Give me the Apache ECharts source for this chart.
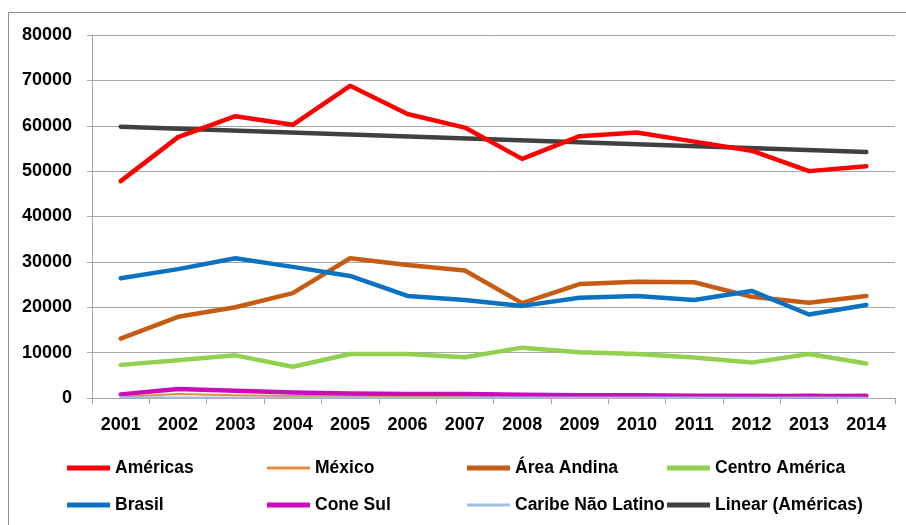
<!DOCTYPE html>
<html>
<head>
<meta charset="utf-8">
<script src="https://cdn.jsdelivr.net/npm/echarts@6/dist/echarts.min.js"></script>
<style>
    html, body { margin: 0; padding: 0; background: #fff; }
    #chart { width: 906px; height: 525px; }
</style>
</head>
<body>
<div id="chart"></div>
<script>
// 年份
var years = ['2001', '2002', '2003', '2004', '2005', '2006', '2007', '2008', '2009', '2010', '2011', '2012', '2013', '2014'];
// y轴刻度
var yTicks = [0, 10000, 20000, 30000, 40000, 50000, 60000, 70000, 80000];

// 各系列数据
var americas = [47800, 57500, 62100, 60200, 68800, 62600, 59600, 52700, 57700, 58500, 56500, 54500, 50000, 51100];
var mexico = [200, 900, 600, 450, 400, 350, 350, 300, 300, 300, 300, 400, 900, 300];
var areaAndina = [13100, 17900, 20000, 23100, 30800, 29300, 28100, 20900, 25100, 25600, 25500, 22300, 21000, 22500];
var centroAmerica = [7300, 8300, 9400, 6900, 9700, 9700, 9000, 11100, 10100, 9700, 8900, 7800, 9700, 7600];
var brasil = [26400, 28400, 30800, 28900, 26900, 22500, 21600, 20300, 22100, 22500, 21600, 23600, 18400, 20500];
var coneSul = [800, 2000, 1600, 1200, 1000, 900, 900, 700, 600, 600, 500, 500, 400, 500];
var caribe = [150, 120, 130, 100, 100, 110, 100, 90, 100, 100, 90, 80, 90, 80];
// 趋势线只给首尾两点，中间用 connectNulls 连成直线
var linearEnds = [59800, 54200];

var linearData = years.map(function (y, i) {
    if (i === 0) return linearEnds[0];
    if (i === years.length - 1) return linearEnds[1];
    return null;
});

var seriesList = [
    { name: 'Américas', data: americas, color: '#FF0000', width: 4.5 },
    { name: 'México', data: mexico, color: '#E98A3E', width: 2 },
    { name: 'Área Andina', data: areaAndina, color: '#C65B13', width: 4.5 },
    { name: 'Centro América', data: centroAmerica, color: '#92D050', width: 4.5 },
    { name: 'Brasil', data: brasil, color: '#0A72C0', width: 4.5 },
    { name: 'Cone Sul', data: coneSul, color: '#CC0CB8', width: 4.5 },
    { name: 'Caribe Não Latino', data: caribe, color: '#9DBFE3', width: 2 },
    { name: 'Linear (Américas)', data: linearData, color: '#404040', width: 4.5 }
];

// 图例位置：两行四列
var legendCols = [67, 267, 467, 667];
var legendRows = [458, 495];

var textFont = "'Liberation Sans', Arial, sans-serif";

var chart = echarts.init(document.getElementById('chart'));

var option = {
    animation: false,
    backgroundColor: '#fff',
    grid: {
        left: 92,
        right: 11,
        top: 35,
        bottom: 127
    },
    graphic: [{
        type: 'rect',
        shape: { x: 8.5, y: 12.5, width: 1000, height: 1000 },
        style: { fill: 'none', stroke: '#8C8C8C', lineWidth: 1 },
        silent: true
    }],
    legend: seriesList.map(function (s, i) {
        return {
            data: [s.name],
            left: legendCols[i % 4],
            top: legendRows[Math.floor(i / 4)],
            icon: 'rect',
            itemWidth: 43,
            itemHeight: s.width > 3 ? 5 : 3,
            itemGap: 0,
            padding: 0,
            textStyle: {
                fontFamily: textFont,
                fontWeight: 'bold',
                fontSize: 17.5,
                lineHeight: 20,
                color: '#000'
            }
        };
    }),
    xAxis: {
        type: 'category',
        data: years,
        boundaryGap: true,
        axisLine: { lineStyle: { color: '#A6A6A6', width: 1 } },
        axisTick: { show: true, length: 6, lineStyle: { color: '#A6A6A6' } },
        axisLabel: {
            interval: 0,
            margin: 18,
            color: '#000',
            fontFamily: textFont,
            fontWeight: 'bold',
            fontSize: 18
        }
    },
    yAxis: {
        type: 'value',
        min: yTicks[0],
        max: yTicks[yTicks.length - 1],
        interval: yTicks[1] - yTicks[0],
        axisLine: { show: true, lineStyle: { color: '#A6A6A6', width: 1 } },
        axisTick: { show: true, length: 5, lineStyle: { color: '#A6A6A6' } },
        splitLine: { lineStyle: { color: '#A6A6A6', width: 1 } },
        axisLabel: {
            margin: 20,
            color: '#000',
            fontFamily: textFont,
            fontWeight: 'bold',
            fontSize: 18,
            formatter: function (v) { return String(v); }
        }
    },
    series: seriesList.map(function (s, i) {
        return {
            type: 'line',
            name: s.name,
            data: s.data,
            connectNulls: true,
            showSymbol: false,
            symbol: 'none',
            color: s.color,
            z: s.name === 'Américas' ? 4 : 2,
            lineStyle: { color: s.color, width: s.width, cap: 'round', join: 'round' }
        };
    })
};

chart.setOption(option);
</script>
</body>
</html>
